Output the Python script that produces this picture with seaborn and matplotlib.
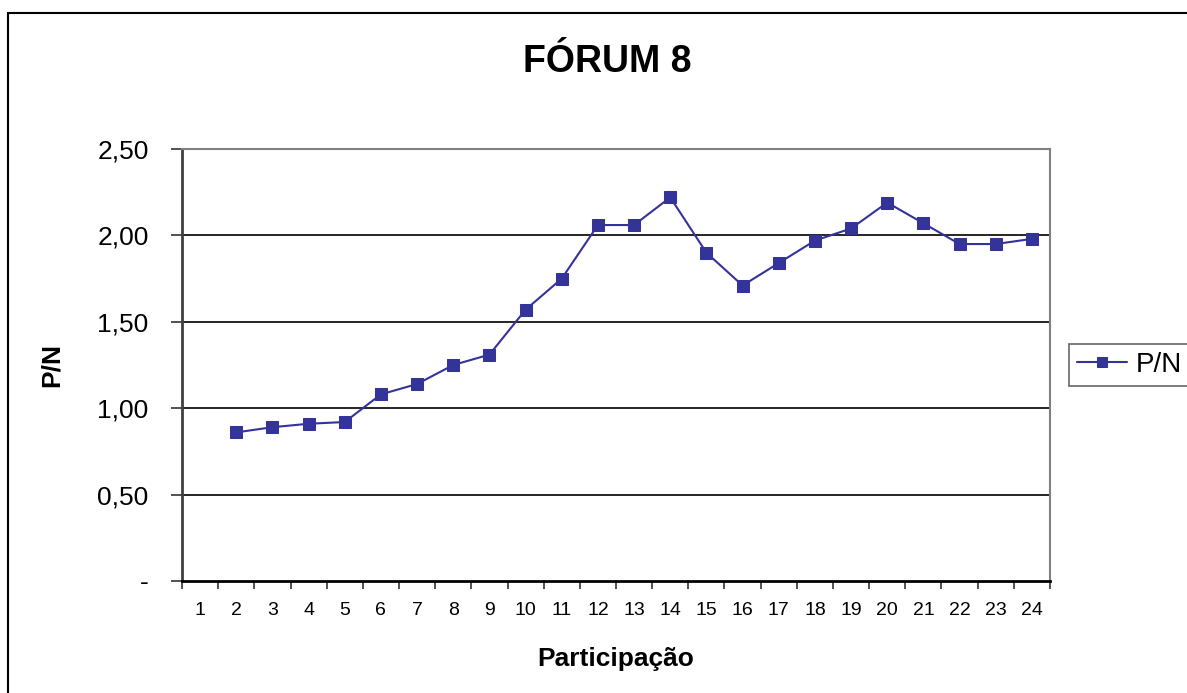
import matplotlib
matplotlib.use("Agg")
import matplotlib.pyplot as plt
import seaborn as sns
import pandas as pd
from matplotlib.patches import Rectangle

# categorias do eixo x (participação) e valores P/N
participacao = list(range(1, 25))
pn_x = list(range(2, 25))
pn_y = [0.86, 0.89, 0.91, 0.92, 1.08, 1.14, 1.25, 1.31, 1.57, 1.75, 2.06,
        2.06, 2.22, 1.90, 1.71, 1.84, 1.97, 2.04, 2.19, 2.07, 1.95, 1.95, 1.98]
yticks = [0, 0.5, 1.0, 1.5, 2.0, 2.5]
ytick_labels = ['-', '0,50', '1,00', '1,50', '2,00', '2,50']

df = pd.DataFrame({'Participacao': pn_x, 'P/N': pn_y})

sns.set_style("white")
plt.rcParams['font.family'] = ['Liberation Sans', 'DejaVu Sans']
plt.rcParams['text.color'] = 'black'
plt.rcParams['axes.labelcolor'] = 'black'
plt.rcParams['xtick.color'] = 'black'
plt.rcParams['ytick.color'] = 'black'

fig = plt.figure(figsize=(11.87, 6.93), dpi=100)
ax = fig.add_axes([182/1187, 1 - 581/693, (1050-182)/1187, (581-149)/693])

sns.lineplot(data=df, x='Participacao', y='P/N', marker='s', color='#333399',
             markersize=8, markeredgecolor='#333399', linewidth=1.5,
             label='P/N', ax=ax)

ax.set_xlim(0.5, 24.5)
ax.set_ylim(0, 2.5)

# grade horizontal
for v in yticks[1:]:
    ax.axhline(v, color='black', linewidth=1.2, zorder=0)

ax.set_yticks(yticks)
ax.set_yticklabels(ytick_labels, fontsize=19)
# ticks nas divisas das categorias, rótulos no centro
ax.set_xticks([p - 0.5 for p in participacao] + [24.5])
ax.set_xticklabels([])
ax.set_xticks(participacao, minor=True)
ax.set_xticklabels([str(p) for p in participacao], minor=True, fontsize=14)
ax.tick_params(axis='x', which='major', direction='out', length=6, width=1.2,
               color='#333333', bottom=True)
ax.tick_params(axis='x', which='minor', length=0, pad=15)
ax.tick_params(axis='y', direction='out', length=8, width=1.2, color='#333333',
               left=True, pad=16, labelcolor='black')

for side in ['top', 'right']:
    ax.spines[side].set_color('#808080')
    ax.spines[side].set_linewidth(1.5)
ax.spines['left'].set_color('#404040')
ax.spines['left'].set_linewidth(2)
ax.spines['bottom'].set_color('black')
ax.spines['bottom'].set_linewidth(2)

ax.set_xlabel('Participação', fontsize=19, fontweight='bold', labelpad=20)
ax.set_ylabel('P/N', fontsize=19, fontweight='bold', labelpad=24)

fig.text(607/1187, 1 - 62/693, 'FÓRUM 8', fontsize=27, fontweight='bold',
         ha='center', va='center')

leg = ax.legend(loc='center left', bbox_to_anchor=(1069/1187, 1 - 365/693),
                bbox_transform=fig.transFigure, fontsize=20, frameon=True,
                fancybox=False, edgecolor='#404040', borderpad=0.3,
                borderaxespad=0, handlelength=1.8, handletextpad=0.3,
                markerscale=0.85)
leg.get_frame().set_linewidth(1.2)

# moldura externa do gráfico
fig.patches.append(Rectangle((7.5/1187, -0.1), 1.2, 0.1 + 1 - 13.5/693,
                             transform=fig.transFigure, fill=False,
                             edgecolor='black', linewidth=1.5))

fig.savefig('out.png', dpi=100)
